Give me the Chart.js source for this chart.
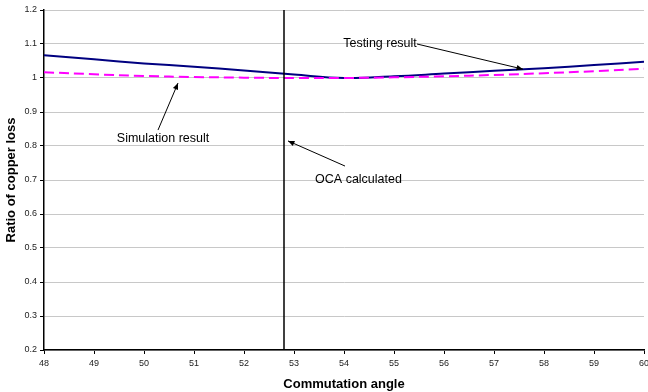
<!DOCTYPE html>
<html>
<head>
<meta charset="utf-8">
<script src="https://cdn.jsdelivr.net/npm/chart.js@4"></script>
<style>
  html, body { margin: 0; padding: 0; background: #fff; }
  #wrap { width: 648px; height: 392px; }
</style>
</head>
<body>
<div id="wrap"><canvas id="chart" width="648" height="392"></canvas></div>
<script>
// --- Data ---
const angles = [48, 49, 50, 51, 52, 53, 54, 55, 56, 57, 58, 59, 60];
const testing = [1.067, 1.055, 1.043, 1.033, 1.022, 1.010, 1.000, 1.005, 1.013, 1.021, 1.029, 1.038, 1.048];
const simulation = [1.017, 1.011, 1.006, 1.003, 1.001, 1.000, 1.000, 1.002, 1.005, 1.009, 1.014, 1.020, 1.027];
const ocaAngle = 52.8;
const yTicks = [0.2, 0.3, 0.4, 0.5, 0.6, 0.7, 0.8, 0.9, 1, 1.1, 1.2];

// annotation labels: [text, textX, textY, arrowFromX, arrowFromY, arrowToX, arrowToY] (data units)
const notes = [
    ['Testing result', 54.72, 1.10, 55.46, 1.10, 57.58, 1.026],
    ['Simulation result', 50.38, 0.823, 50.28, 0.847, 50.68, 0.985],
    ['OCA calculated', 54.29, 0.70, 54.02, 0.741, 52.88, 0.815]
];

const FONT = '"Liberation Sans", Arial, sans-serif';

// --- Annotation plugin ---
const notesPlugin = {
    id: 'notes',
    afterDatasetsDraw(chart) {
        const ctx = chart.ctx;
        const xs = chart.scales.x, ys = chart.scales.y;
        ctx.save();
        ctx.font = '12.5px ' + FONT;
        ctx.fillStyle = '#000';
        ctx.textAlign = 'center';
        ctx.textBaseline = 'middle';
        notes.forEach(n => {
            ctx.fillText(n[0], xs.getPixelForValue(n[1]), ys.getPixelForValue(n[2]));
            const x1 = xs.getPixelForValue(n[3]), y1 = ys.getPixelForValue(n[4]);
            const x2 = xs.getPixelForValue(n[5]), y2 = ys.getPixelForValue(n[6]);
            ctx.strokeStyle = '#000';
            ctx.lineWidth = 1;
            ctx.beginPath();
            ctx.moveTo(x1, y1);
            ctx.lineTo(x2, y2);
            ctx.stroke();
            // arrow head
            const a = Math.atan2(y2 - y1, x2 - x1);
            const len = 7, w = 0.4;
            ctx.beginPath();
            ctx.moveTo(x2, y2);
            ctx.lineTo(x2 - len * Math.cos(a - w), y2 - len * Math.sin(a - w));
            ctx.lineTo(x2 - len * Math.cos(a + w), y2 - len * Math.sin(a + w));
            ctx.closePath();
            ctx.fill();
        });
        ctx.restore();
    }
};

const ctx = document.getElementById('chart').getContext('2d');
new Chart(ctx, {
    type: 'scatter',
    data: {
        datasets: [
            {
                label: 'Testing result',
                data: angles.map((a, i) => ({ x: a, y: testing[i] })),
                showLine: true,
                borderColor: '#000080',
                borderWidth: 2,
                pointRadius: 0,
                tension: 0.4,
                order: 2
            },
            {
                label: 'Simulation result',
                data: angles.map((a, i) => ({ x: a, y: simulation[i] })),
                showLine: true,
                borderColor: '#ff00ff',
                borderWidth: 2,
                borderDash: [10, 5],
                pointRadius: 0,
                tension: 0.4,
                order: 1
            },
            {
                label: 'OCA calculated',
                data: [{ x: ocaAngle, y: yTicks[0] }, { x: ocaAngle, y: yTicks[yTicks.length - 1] }],
                showLine: true,
                borderColor: '#000',
                borderWidth: 1.5,
                pointRadius: 0,
                order: 0
            }
        ]
    },
    options: {
        responsive: false,
        animation: false,
        layout: { padding: { top: 10, right: 4, left: 0, bottom: 0 } },
        plugins: {
            legend: { display: false },
            tooltip: { enabled: false }
        },
        scales: {
            x: {
                type: 'linear',
                min: angles[0],
                max: angles[angles.length - 1],
                afterBuildTicks: s => { s.ticks = angles.map(v => ({ value: v })); },
                afterFit: s => { s.height = 42; s.paddingLeft = 0; s.paddingRight = 0; },
                border: { color: '#000', width: 1.5 },
                grid: { drawOnChartArea: false, tickColor: '#000', tickLength: 4 },
                ticks: { color: '#222', font: { family: FONT, size: 9 }, maxRotation: 0, padding: 4 },
                title: {
                    display: true,
                    text: 'Commutation angle',
                    color: '#000',
                    font: { family: FONT, size: 13, weight: 'bold' },
                    padding: { top: 2, bottom: 0 }
                }
            },
            y: {
                min: yTicks[0],
                max: yTicks[yTicks.length - 1],
                afterBuildTicks: s => { s.ticks = yTicks.map(v => ({ value: v })); },
                afterFit: s => { s.width = 44; },
                border: { color: '#000', width: 1.5 },
                grid: { color: '#c8c8c8', tickColor: '#000', tickLength: 4 },
                ticks: { color: '#222', font: { family: FONT, size: 9 }, padding: 3, callback: v => String(v) },
                title: {
                    display: true,
                    text: 'Ratio of copper loss',
                    color: '#000',
                    font: { family: FONT, size: 13, weight: 'bold' },
                    padding: { top: 4, bottom: 2 }
                }
            }
        }
    },
    plugins: [notesPlugin]
});
</script>
</body>
</html>
